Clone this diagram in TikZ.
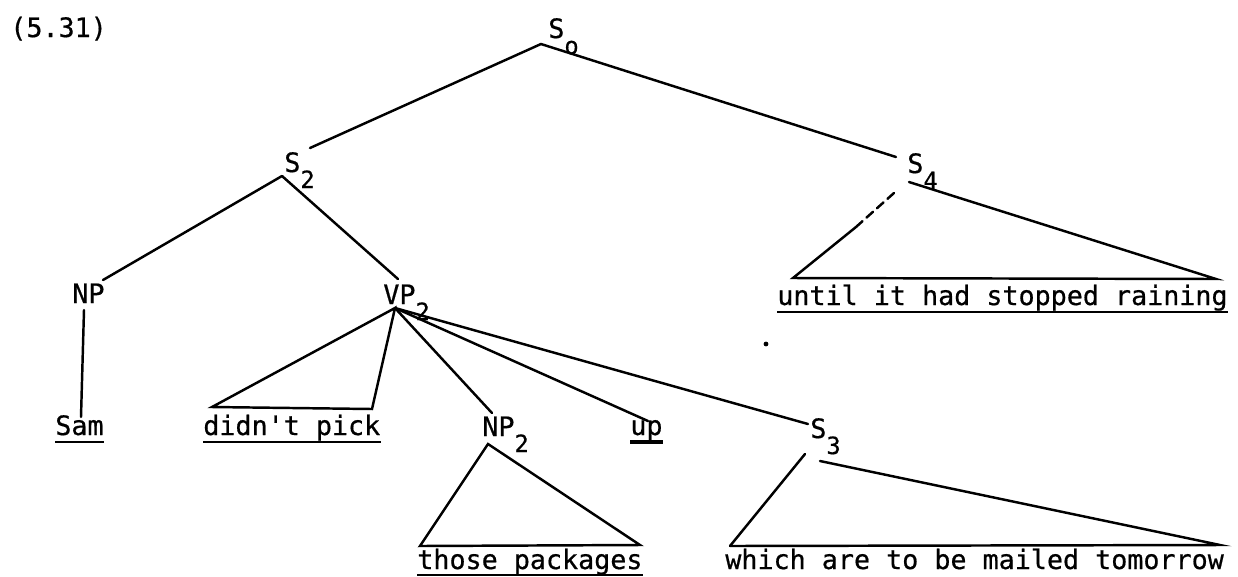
\documentclass[tikz,border=0pt]{standalone}
\usepackage{fontspec}
\setmonofont[FakeBold=0.6]{DejaVu Sans Mono}
\usepackage{tikz}
\usetikzlibrary{positioning,calc}
\newcommand{\lowr}[1]{\raisebox{-0.6em}{\fontsize{13.5}{13.5}\selectfont #1}}
\tikzset{
    every picture/.style={font=\ttfamily\fontsize{15.2}{18}\selectfont},
    lab/.style={inner sep=0pt, anchor=base west},
    branch/.style={line width=1.4pt, line cap=round, draw=black},
    brokenbranch/.style={branch, dash pattern=on 5pt off 3pt},
    uline/.style={line width=1.2pt, draw=black},
    heavyline/.style={line width=2pt, draw=black}
}
\begin{document}
\begin{tikzpicture}[x=0.2mm, y=-0.2mm]
    \useasboundingbox (0,0) rectangle (1238,576);
    % labels
    \node[lab] (num) at (10,37) {(5.31)};
    \node[lab] (s0) at (548,38) {S\lowr{o}};
    \node[lab] (s2) at (284,172) {S\lowr{2}};
    \node[lab] (s4) at (907,173) {S\lowr{4}};
    \node[lab] (np) at (72,303) {NP};
    \node[lab] (vp) at (383,304) {VP\lowr{2}};
    \node[lab] (until) at (777,305) {until it had stopped raining};
    \node[lab] (sam) at (55,435) {Sam};
    \node[lab] (pick) at (203,435) {didn't pick};
    \node[lab] (np2) at (482,436) {NP\lowr{2}};
    \node[lab] (up) at (630,435) {up};
    \node[lab] (s3) at (810,438) {S\lowr{3}};
    \node[lab] (pkgs) at (417,569) {those packages};
    \node[lab] (which) at (725,569) {which are to be mailed tomorrow};
    % branch points
    \coordinate (s0foot) at (541,44);
    \coordinate (s2top) at (310,148);
    \coordinate (s4top) at (896,157);
    \coordinate (s2foot) at (282,176);
    \coordinate (nptop) at (103,280);
    \coordinate (vptop) at (398,279);
    \coordinate (npfoot) at (84,310);
    \coordinate (samtop) at (81,417);
    \coordinate (vpfoot) at (395,308);
    \coordinate (np2top) at (492,413);
    \coordinate (uptop) at (648,421);
    \coordinate (s3top) at (808,424);
    % triangle corners
    \coordinate (pickl) at (212,407);
    \coordinate (pickr) at (372,409);
    \coordinate (np2foot) at (488,444);
    \coordinate (pkgsl) at (420,546);
    \coordinate (pkgsr) at (640,545);
    \coordinate (s3footl) at (805,454);
    \coordinate (s3footr) at (820,461);
    \coordinate (whichl) at (730,546);
    \coordinate (whichr) at (1220,545);
    \coordinate (s4footl) at (894,193);
    \coordinate (s4mid) at (856,227);
    \coordinate (s4footr) at (909,182);
    \coordinate (untill) at (793,278);
    \coordinate (untilr) at (1216,279);
    \coordinate (speck) at (766,344);
    % tree
    \draw[branch] (s0foot) -- (s2top);
    \draw[branch] (s0foot) -- (s4top);
    \draw[branch] (s2foot) -- (nptop);
    \draw[branch] (s2foot) -- (vptop);
    \draw[branch] (npfoot) -- (samtop);
    \draw[branch] (pickl) -- (vpfoot) -- (pickr) -- cycle;
    \draw[branch] (vpfoot) -- (np2top);
    \draw[branch] (vpfoot) -- (uptop);
    \draw[branch] (vpfoot) -- (s3top);
    \draw[branch] (pkgsl) -- (np2foot) -- (pkgsr) -- cycle;
    \draw[branch] (whichl) -- (s3footl);
    \draw[branch] (s3footr) -- (whichr) -- (whichl);
    \draw[brokenbranch] (s4footl) -- (s4mid);
    \draw[branch] (s4mid) -- (untill) -- (untilr) -- (s4footr);
    \fill (speck) circle (2.4);
    % underlines
    \draw[uline] ([yshift=-1.4mm]sam.base west) -- ([yshift=-1.4mm]sam.base east);
    \draw[uline] ([yshift=-1.4mm]pick.base west) -- ([yshift=-1.4mm]pick.base east);
    \draw[heavyline] ([yshift=-1.4mm]up.base west) -- ([yshift=-1.4mm]up.base east);
    \draw[uline] ([yshift=-1.2mm]pkgs.base west) -- ([yshift=-1.2mm]pkgs.base east);
    \draw[uline] ([yshift=-1.4mm]until.base west) -- ([yshift=-1.4mm]until.base east);
\end{tikzpicture}
\end{document}
